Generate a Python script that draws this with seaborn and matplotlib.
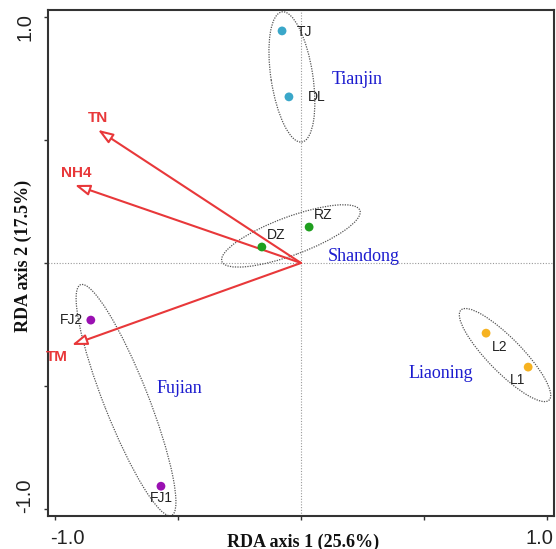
import matplotlib
matplotlib.use("Agg")
import matplotlib.pyplot as plt
import matplotlib.transforms as mtransforms
from matplotlib.patches import Ellipse
import pandas as pd
import seaborn as sns

# site scores
site_names = ["TJ", "DL", "RZ", "DZ", "FJ2", "FJ1", "L2", "L1"]
site_x = [-0.077, -0.049, 0.033, -0.159, -0.854, -0.569, 0.752, 0.923]
site_y = [0.943, 0.675, 0.146, 0.065, -0.232, -0.907, -0.285, -0.423]
site_group = ["Tianjin", "Tianjin", "Shandong", "Shandong",
              "Fujian", "Fujian", "Liaoning", "Liaoning"]

# environmental vectors
env_names = ["TN", "NH4", "TM"]
env_x = [-0.825, -0.919, -0.931]
env_y = [0.541, 0.317, -0.333]

# group ellipses
groups = ["Tianjin", "Shandong", "Fujian", "Liaoning"]
ell_cx = [-0.037, -0.041, -0.711, 0.829]
ell_cy = [0.756, 0.110, -0.557, -0.374]
ell_major = [0.535, 0.598, 1.008, 0.512]
ell_minor = [0.17, 0.155, 0.18, 0.138]
ell_angle = [-81.3, 20.3, -68.5, -45.6]

palette = {"Tianjin": "#3aa7c9", "Shandong": "#1f9f1f",
           "Fujian": "#9a10b2", "Liaoning": "#f6b220"}
red = "#e8383a"
blue = "#1c1ccf"

# label layout (pixel offsets from point, alignment)
site_lab = {"TJ": (15, -1, "left"), "DL": (19, 0, "left"), "RZ": (5, 12, "left"),
            "DZ": (5, 12, "left"), "FJ2": (-8, 0, "right"), "FJ1": (0, -12, "center"),
            "L2": (6, -14, "left"), "L1": (-18, -13, "left")}
group_lab = {"Tianjin": (0.126, 0.728), "Shandong": (0.11, 0.008),
             "Fujian": (-0.589, -0.528), "Liaoning": (0.435, -0.467)}
env_lab = {"TN": (0, 12), "NH4": (1, 12), "TM": (-15, -12)}

df = pd.DataFrame({"site": site_names, "x": site_x, "y": site_y, "group": site_group})

sns.set_style("white")
plt.rcParams["font.family"] = ["Liberation Sans", "DejaVu Sans"]

fig = plt.figure(figsize=(5.56, 5.49), dpi=100)
ax = fig.add_axes([48 / 556, 33 / 549, 506 / 556, 506 / 549])

ax.axhline(0, color="#9a9a9a", lw=0.8, ls=(0, (1, 1.5)), zorder=0)
ax.axvline(0, color="#9a9a9a", lw=0.8, ls=(0, (1, 1.5)), zorder=0)

for i, g in enumerate(groups):
    e = Ellipse((ell_cx[i], ell_cy[i]), ell_major[i], ell_minor[i], angle=ell_angle[i],
                fill=False, ec="#555555", lw=0.9, ls=(0, (1, 1)), zorder=1)
    ax.add_patch(e)

for name, x, y in zip(env_names, env_x, env_y):
    ax.annotate("", xy=(x, y), xytext=(0, 0),
                arrowprops=dict(arrowstyle="-|>,head_length=0.9,head_width=0.32",
                                fc="white", ec=red, lw=1.5, shrinkA=0, shrinkB=0),
                zorder=2)
    dx, dy = env_lab[name]
    ax.annotate(name, xy=(x, y), xytext=(dx * 0.72, dy * 0.72), textcoords="offset points",
                ha="center", va="center", color=red, fontsize=11, fontweight="bold")

sns.scatterplot(data=df, x="x", y="y", hue="group", palette=palette, s=40,
                edgecolor="none", legend=False, ax=ax, zorder=3)

for name, x, y in zip(site_names, site_x, site_y):
    dx, dy, ha = site_lab[name]
    ax.annotate(name, xy=(x, y), xytext=(dx * 0.72, dy * 0.72), textcoords="offset points",
                ha=ha, va="center", fontsize=10, color="#222222")

for g in groups:
    gx, gy = group_lab[g]
    ax.text(gx, gy, g, color=blue, fontsize=13, family="Liberation Serif",
            ha="left", va="baseline")

ax.set_xlim(-1.028, 1.028)
ax.set_ylim(-1.028, 1.028)
ax.set_xticks([-1, -0.5, 0, 0.5, 1], ["-1.0", "", "", "", "1.0"])
ax.set_yticks([-1, -0.5, 0, 0.5, 1], ["-1.0", "", "", "", "1.0"])
ax.tick_params(axis="both", direction="out", length=3, width=1, color="#333333",
               labelsize=14.5, labelcolor="#222222", bottom=True, left=True)
ax.tick_params(axis="x", pad=6)
ax.tick_params(axis="y", pad=7)
for lab in ax.get_yticklabels():
    lab.set_rotation(90)
    lab.set_va("center")

shifts_x = [12, 0, 0, 0, -8]
shifts_y = [13, 0, 0, 0, -10]
for lab, s in zip(ax.get_xticklabels(), shifts_x):
    lab.set_transform(lab.get_transform() + mtransforms.ScaledTranslation(s / 100, 0, fig.dpi_scale_trans))
for lab, s in zip(ax.get_yticklabels(), shifts_y):
    lab.set_transform(lab.get_transform() + mtransforms.ScaledTranslation(0, s / 100, fig.dpi_scale_trans))

for sp in ax.spines.values():
    sp.set_color("#333333")
    sp.set_linewidth(1.5)

ax.set_xlabel("RDA axis 1 (25.6%)", family="Liberation Serif", fontweight="bold",
              fontsize=13, color="#111111")
ax.set_ylabel("RDA axis 2 (17.5%)", family="Liberation Serif", fontweight="bold",
              fontsize=13, color="#111111")
ax.xaxis.set_label_coords(0.504, -0.034)
ax.yaxis.set_label_coords(-0.032, 0.514)

fig.savefig("out.png", dpi=100)
